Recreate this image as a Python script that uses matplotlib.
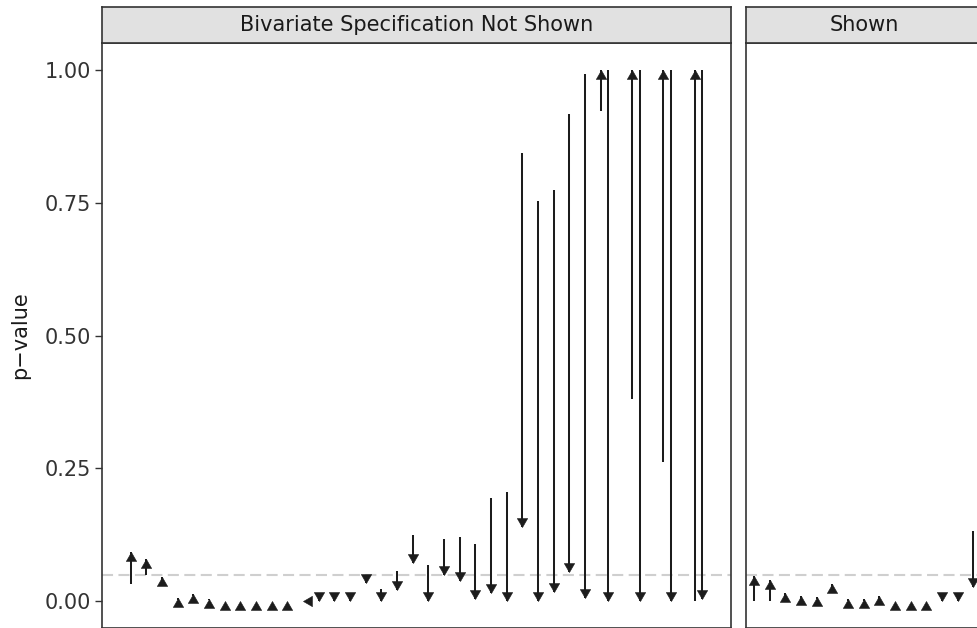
import numpy as np
import matplotlib
matplotlib.use("Agg")
import matplotlib.pyplot as plt
from matplotlib.path import Path

# ---------------- data ----------------
panel_titles = ["Bivariate Specification Not Shown", "Shown"]

left_x = [1, 2, 3, 4, 5, 6, 7, 8, 9, 10, 11, 12, 13, 14, 15, 16, 17, 18, 19, 20,
          21, 22, 23, 24, 25, 26, 27, 28, 29, 30, 31, 31.5, 33, 33.5, 35, 35.5, 37, 37.5]
left_start = [0.033, 0.050, 0.040, 0.003, 0.010, 0.002, 0.000, 0.000, 0.000, 0.000,
              0.000, 0.000, 0.004, 0.004, 0.004, 0.045, 0.024, 0.057, 0.124, 0.068,
              0.118, 0.121, 0.108, 0.194, 0.205, 0.844, 0.752, 0.773, 0.917, 0.992,
              0.923, 1.000, 0.380, 1.000, 0.263, 1.000, 0.000, 1.000]
left_end = [0.093, 0.079, 0.046, 0.006, 0.013, 0.004, 0.001, 0.001, 0.001, 0.001,
            0.001, 0.000, 0.000, 0.000, 0.000, 0.035, 0.000, 0.021, 0.073, 0.000,
            0.049, 0.038, 0.005, 0.016, 0.000, 0.139, 0.000, 0.017, 0.055, 0.007,
            1.000, 0.000, 1.000, 0.000, 1.000, 0.000, 1.000, 0.004]

right_x = [1, 2, 3, 4, 5, 6, 7, 8, 9, 10, 11, 12, 13, 14, 15]
right_start = [0.000, 0.000, 0.010, 0.005, 0.004, 0.028, 0.001, 0.001, 0.005, 0.000,
               0.000, 0.000, 0.005, 0.005, 0.132]
right_end = [0.048, 0.041, 0.016, 0.010, 0.009, 0.033, 0.005, 0.005, 0.010, 0.001,
             0.001, 0.001, 0.000, 0.000, 0.028]

threshold = 0.05
y_ticks = [0.00, 0.25, 0.50, 0.75, 1.00]
y_ticklabels = ["0.00", "0.25", "0.50", "0.75", "1.00"]

# ---------------- style ----------------
W, H = 977, 628
DPI = 100
ARROW_COL = "#1c1c1c"
BORDER_COL = "#333333"
STRIP_FILL = "#e1e1e1"
FS = 15

plt.rcParams["font.family"] = ["DejaVu Sans"]

fig = plt.figure(figsize=(W / DPI, H / DPI), dpi=DPI)
fig.patch.set_facecolor("white")

def px_box(x0, y0, x1, y1):
    # pixel coords (origin top-left) -> figure fraction [l, b, w, h]
    return [x0 / W, 1 - y1 / H, (x1 - x0) / W, (y1 - y0) / H]

# triangle markers with their tip at the data point
codes = [Path.MOVETO, Path.LINETO, Path.LINETO, Path.CLOSEPOLY]
tri = np.array([(0, 0), (-0.577, -1), (0.577, -1), (0, 0)])
up_m = Path(tri, codes)
down_m = Path(tri * np.array([1, -1]), codes)
left_m = Path(np.array([(0, 0), (1, -0.577), (1, 0.577), (0, 0)]), codes)

MS = 12.9

def draw_panel(ax, xs, starts, ends):
    ax.axhline(threshold, color="#cfcfcf", lw=1.5, ls=(0, (5.3, 2.6)), zorder=1)
    for x, s, e in zip(xs, starts, ends):
        ax.plot([x, x], [s, e], color=ARROW_COL, lw=1.45,
                solid_capstyle="butt", zorder=2)
        if e > s:
            m = up_m
        elif e < s:
            m = down_m
        else:
            m = left_m
        ax.plot([x], [e], marker=m, ms=MS, color=ARROW_COL, mew=0.4,
                mec=ARROW_COL, zorder=3, clip_on=False)
    ax.set_ylim(-0.05, 1.05)
    ax.set_facecolor("white")
    for sp in ax.spines.values():
        sp.set_color(BORDER_COL)
        sp.set_linewidth(1.2)
    ax.set_xticks([])

# left panel
axL = fig.add_axes(px_box(102, 43, 731, 628))
draw_panel(axL, left_x, left_start, left_end)
axL.set_xlim(1 - 0.05 * 36.5, 37.5 + 0.05 * 36.5)
axL.set_yticks(y_ticks)
axL.set_yticklabels(y_ticklabels, fontsize=FS, color="#333333")
axL.tick_params(axis="y", length=5, width=1.0, color="#333333", pad=3)
axL.set_ylabel("p\u2212value", fontsize=FS, color="#1a1a1a", labelpad=10)

# right panel (cropped on the right in the reference)
axR = fig.add_axes(px_box(746, 43, 982, 628))
draw_panel(axR, right_x, right_start, right_end)
axR.set_xlim(0.49, 15.55)
axR.set_yticks([])

# strips
for (x0, x1), title in zip([(102, 731), (746, 982)], panel_titles):
    sax = fig.add_axes(px_box(x0, 7, x1, 43))
    sax.set_facecolor(STRIP_FILL)
    sax.set_xticks([])
    sax.set_yticks([])
    for sp in sax.spines.values():
        sp.set_color(BORDER_COL)
        sp.set_linewidth(1.2)
    sax.text(0.5, 0.5, title, ha="center", va="center", fontsize=FS,
             color="#1a1a1a", transform=sax.transAxes)

fig.savefig("out.png", dpi=DPI)
